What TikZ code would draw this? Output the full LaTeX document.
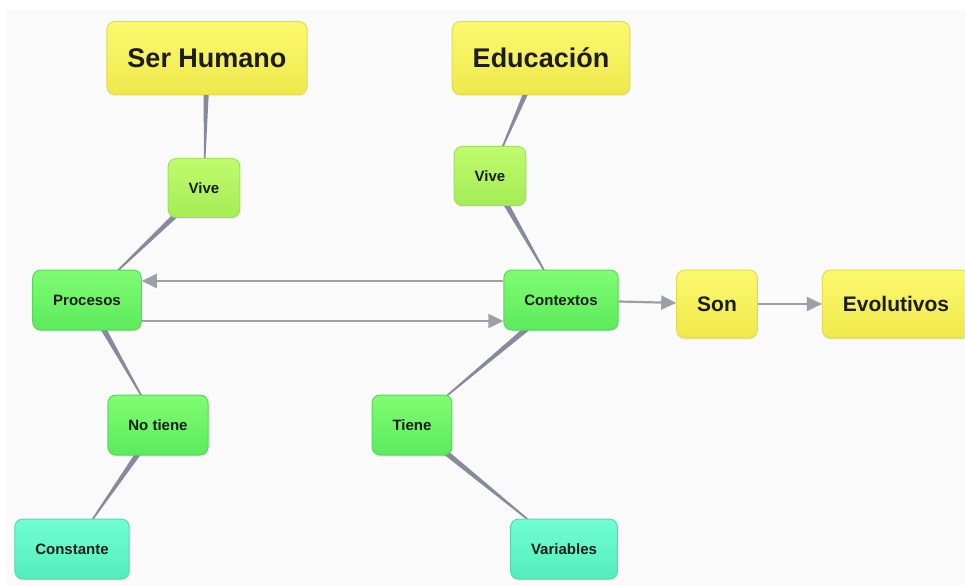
\documentclass[tikz,border=0pt]{standalone}
\usepackage{fontspec}
\setmainfont{Liberation Sans}
\usetikzlibrary{arrows.meta,calc,backgrounds,shadows}

\definecolor{bgc}{HTML}{FAFAFA}
\definecolor{linkc}{HTML}{858B9C}
\definecolor{arrowc}{HTML}{9C9EA8}
\definecolor{yelT}{HTML}{FCF96E}
\definecolor{yelB}{HTML}{EFE84C}
\definecolor{yelD}{HTML}{E2DB52}
\definecolor{limT}{HTML}{C0FB6E}
\definecolor{limB}{HTML}{A4EC55}
\definecolor{limD}{HTML}{A2DF5E}
\definecolor{grnT}{HTML}{80FD72}
\definecolor{grnB}{HTML}{5CEA5C}
\definecolor{grnD}{HTML}{5AD65E}
\definecolor{cyaT}{HTML}{70FFD2}
\definecolor{cyaB}{HTML}{54EDBA}
\definecolor{cyaD}{HTML}{50DCAE}
\definecolor{txtc}{HTML}{1C1C1C}

\begin{document}
\begin{tikzpicture}[x=1pt,y=-1pt,
  box/.style={rectangle,rounded corners=8pt,inner xsep=20.5pt,inner ysep=0pt,
    text=txtc,font=\bfseries,line width=1pt,
    drop shadow={shadow xshift=0pt,shadow yshift=-1.5pt,opacity=0.12}},
  bigbox/.style={box,top color=yelT,bottom color=yelB,draw=yelD,minimum height=73pt,font=\bfseries\fontsize{27}{31}\selectfont},
  midbox/.style={box,top color=yelT,bottom color=yelB,draw=yelD,minimum height=68pt,font=\bfseries\fontsize{21}{25}\selectfont},
  limebox/.style={box,top color=limT,bottom color=limB,draw=limD,minimum height=59pt,font=\bfseries\fontsize{15}{18}\selectfont},
  greenbox/.style={box,top color=grnT,bottom color=grnB,draw=grnD,minimum height=60pt,font=\bfseries\fontsize{15}{18}\selectfont},
  cyanbox/.style={box,top color=cyaT,bottom color=cyaB,draw=cyaD,minimum height=60pt,font=\bfseries\fontsize{15}{18}\selectfont},
  arrowline/.style={draw=arrowc,line width=2.2pt,-{Triangle[length=15pt,width=14pt]}}]

\useasboundingbox (0,0) rectangle (965,585);

\node [bigbox] (0) at (207, 58) {Ser Humano};
\node [bigbox] (1) at (541, 58) {Educación};
\node [limebox] (2) at (204, 188) {Vive};
\node [limebox] (3) at (490, 176) {Vive};
\node [greenbox] (4) at (87, 300) {Procesos};
\node [greenbox] (5) at (561, 300) {Contextos};
\node [midbox] (6) at (717, 304) {Son};
\node [midbox] (7) at (896, 304) {Evolutivos};
\node [greenbox] (8) at (158, 425) {No tiene};
\node [greenbox] (9) at (412, 425) {Tiene};
\node [cyanbox] (10) at (72, 549) {Constante};
\node [cyanbox] (11) at (564, 549) {Variables};

\begin{scope}[on background layer]
\fill[white] (0,0) rectangle (965,585);
\fill[bgc] (6,10) rectangle (965,585);
% tapered links, thick end at the upper concept
\fill[linkc] ($(0.center)!3.5pt!90:(2.center)$) -- ($(0.center)!3.5pt!-90:(2.center)$) -- (2.center) -- cycle;
\fill[linkc] ($(2.center)!3.5pt!90:(4.center)$) -- ($(2.center)!3.5pt!-90:(4.center)$) -- (4.center) -- cycle;
\fill[linkc] ($(1.center)!3.5pt!90:(3.center)$) -- ($(1.center)!3.5pt!-90:(3.center)$) -- (3.center) -- cycle;
\fill[linkc] ($(3.center)!3.5pt!90:(5.center)$) -- ($(3.center)!3.5pt!-90:(5.center)$) -- (5.center) -- cycle;
\fill[linkc] ($(4.center)!3.5pt!90:(8.center)$) -- ($(4.center)!3.5pt!-90:(8.center)$) -- (8.center) -- cycle;
\fill[linkc] ($(8.center)!3.5pt!90:(10.center)$) -- ($(8.center)!3.5pt!-90:(10.center)$) -- (10.center) -- cycle;
\fill[linkc] ($(5.center)!3.5pt!90:(9.center)$) -- ($(5.center)!3.5pt!-90:(9.center)$) -- (9.center) -- cycle;
\fill[linkc] ($(9.center)!3.5pt!90:(11.center)$) -- ($(9.center)!3.5pt!-90:(11.center)$) -- (11.center) -- cycle;
\end{scope}

\draw [arrowline] ([yshift=19pt]5.west) -- ([yshift=19pt]4.east);
\draw [arrowline] ([yshift=-21pt]4.east) -- ([yshift=-21pt]5.west);
\draw [arrowline] (5) -- (6);
\draw [arrowline] (6) -- (7);
\end{tikzpicture}
\end{document}
